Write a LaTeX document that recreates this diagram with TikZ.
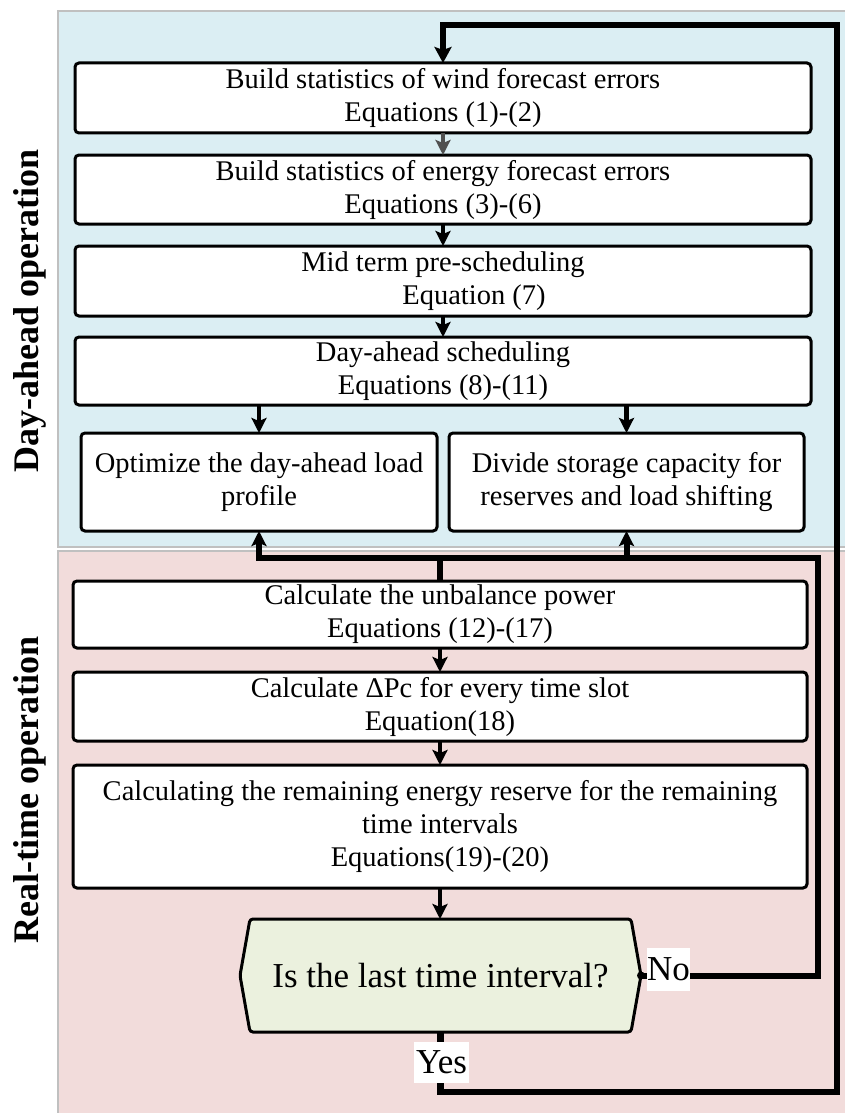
\documentclass[tikz,border=0pt]{standalone}
\usepackage{fontspec}
\setmainfont{Liberation Serif}
\usetikzlibrary{arrows.meta,calc}
\definecolor{dayblue}{HTML}{DBEEF3}
\definecolor{rtpink}{HTML}{F2DCDB}
\definecolor{decgreen}{HTML}{EBF1DE}
\definecolor{panelgray}{HTML}{C0C0C0}
\definecolor{arrgray}{HTML}{505050}
\begin{document}
\begin{tikzpicture}[x=1pt,y=-1pt,
  panel/.style={draw=panelgray,line width=1.2pt},
  stepbox/.style={draw,line width=3pt,rounded corners=4pt,fill=white,inner sep=0pt,outer sep=0pt,align=center,font=\fontsize{28.5}{33}\selectfont},
  flow/.style={line width=4.5pt,-{Stealth[length=15pt,width=15pt,inset=3pt]}},
  fbline/.style={line width=6pt},
  fbarrow/.style={line width=6pt,-{Stealth[length=15pt,width=15pt,inset=3pt]}},
  loopline/.style={line width=6.5pt},
  decshape/.style={draw,line width=3pt,rounded corners=3pt,fill=decgreen},
  dectext/.style={inner sep=0pt,outer sep=0pt,font=\fontsize{35}{40}\selectfont},
  ynlabel/.style={fill=white,inner sep=0pt,outer sep=0pt,font=\fontsize{35}{40}\selectfont},
  sidelabel/.style={rotate=90,inner sep=0pt,font=\bfseries\fontsize{36}{42}\selectfont}
]
\useasboundingbox (0,0) rectangle (845,1113);
% panels
\draw[panel,fill=dayblue] (58,11) rectangle (850,547);
\draw[panel,fill=rtpink] (58,551) rectangle (850,1120);
\node[sidelabel] (dalbl) at (30,311) {Day-ahead operation};
\node[sidelabel] (rtlbl) at (30,790) {Real-time operation};

% boxes
\node[stepbox,minimum width=736,minimum height=70] (box1) at (443,98) {Build statistics of wind forecast errors\\Equations (1)-(2)};
\node[stepbox,minimum width=736,minimum height=69] (box2) at (443,189.5) {Build statistics of energy forecast errors\\Equations (3)-(6)};
\node[stepbox,minimum width=736,minimum height=70] (box3) at (443,281) {Mid term pre-scheduling\\\hspace*{62pt}Equation (7)};
\node[stepbox,minimum width=736,minimum height=68] (box4) at (443,371) {Day-ahead scheduling\\Equations (8)-(11)};
\node[stepbox,minimum width=356,minimum height=98] (subL) at (259,482) {Optimize the day-ahead load\\profile};
\node[stepbox,minimum width=355,minimum height=98] (subR) at (626.5,482) {Divide storage capacity for\\reserves and load shifting};
\node[stepbox,minimum width=734,minimum height=67] (box5) at (440,614.5) {Calculate the unbalance power\\Equations (12)-(17)};
\node[stepbox,minimum width=734,minimum height=69] (box6) at (440,706.5) {Calculate ΔPc for every time slot\\Equation(18)};
\node[stepbox,minimum width=734,minimum height=123] (box7) at (440,826.5) {Calculating the remaining energy reserve for the remaining\\time intervals\\Equations(19)-(20)};

% decision
\coordinate (dc) at (440.5,975.5);
\draw[decshape] ($(dc)+(-200.5,0)$) -- ($(dc)+(-190.5,-56.5)$) -- ($(dc)+(190.5,-56.5)$) -- ($(dc)+(200.5,0)$) -- ($(dc)+(190.5,56.5)$) -- ($(dc)+(-190.5,56.5)$) -- cycle;
\node[dectext,minimum width=401,minimum height=113] (dec) at (dc) {Is the last time interval?};

% main flow
\draw[flow,draw=arrgray] (box1.south) -- (box2.north);
\draw[flow] (box2.south) -- (box3.north);
\draw[flow] (box3.south) -- (box4.north);
\draw[flow] (box4.south -| subL.north) -- (subL.north);
\draw[flow] (box4.south -| subR.north) -- (subR.north);
\draw[flow] (box5.south) -- (box6.north);
\draw[flow] (box6.south) -- (box7.north);
\draw[flow] (box7.south) -- (box7.south |- dec.north);

% No branch
\coordinate (nocorner) at (818,558);
\draw[fbarrow] (dec.east) -| (nocorner) -| (subL.south);
\draw[fbarrow] (subR.south |- nocorner) -- (subR.south);
\draw[fbline] (box5.north |- nocorner) -- (box5.north);
\fill (dec.east) circle (4pt);

% Yes branch (outer loop)
\coordinate (brc) at (837,1092);
\coordinate (trc) at (837,25);
\draw[loopline,-{Stealth[length=16pt,width=17pt,inset=3pt]}] (dec.south) |- (brc) -- (trc) -| (box1.north);

% labels
\node[ynlabel,minimum width=43,minimum height=43] (nolbl) at (668.5,969.5) {No};
\node[ynlabel,minimum width=55,minimum height=41] (yeslbl) at (441.5,1062.5) {Yes};
\end{tikzpicture}
\end{document}
